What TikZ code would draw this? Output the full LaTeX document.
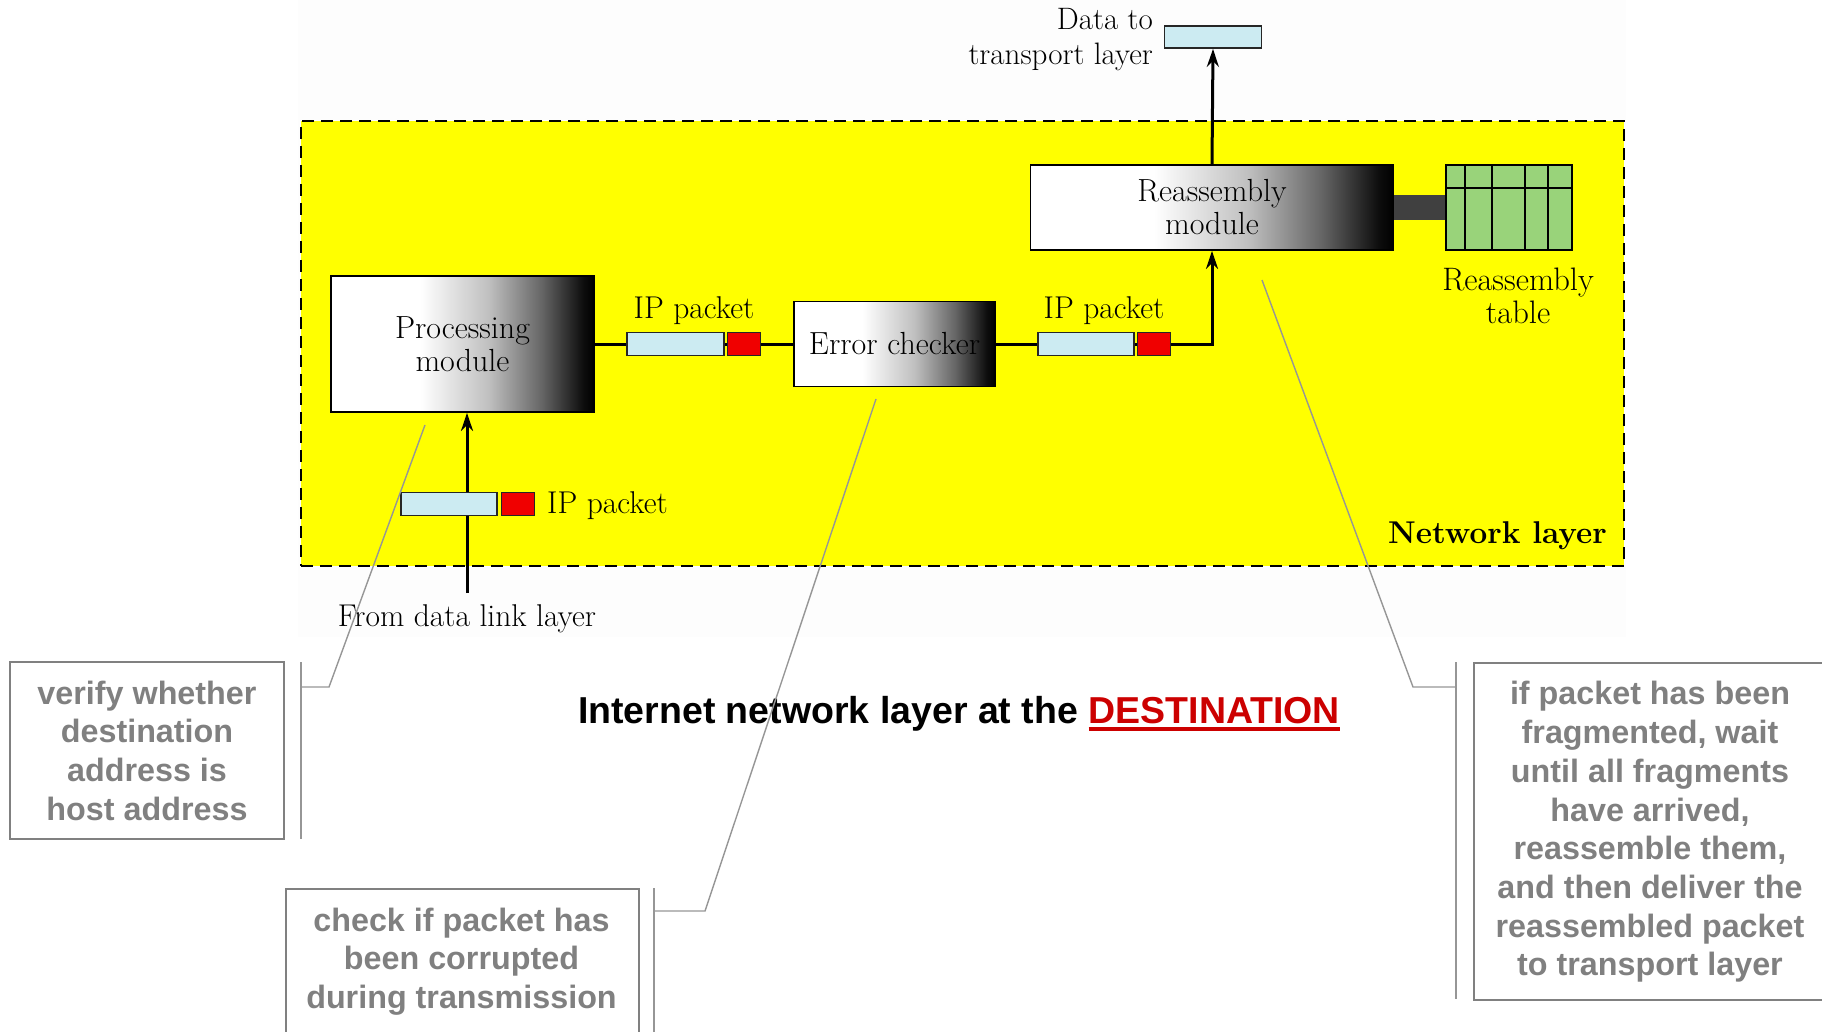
\documentclass[tikz,border=0pt]{standalone}
\usepackage{fontspec}
\newfontfamily\arialfont{Liberation Sans}
\usetikzlibrary{arrows.meta}
\definecolor{pktblue}{RGB}{204,235,242}
\definecolor{pktred}{RGB}{240,0,0}
\definecolor{tblgreen}{RGB}{153,211,122}
\definecolor{netyellow}{RGB}{255,255,0}
\definecolor{faintbg}{RGB}{253,253,253}
\definecolor{callgray}{RGB}{128,128,128}
\definecolor{linegray}{RGB}{150,150,150}
\definecolor{destred}{RGB}{204,0,0}
\definecolor{barcol}{RGB}{64,64,64}
\pgfdeclarehorizontalshading{modshade}{100bp}{color(0bp)=(white); color(25bp)=(white); color(42bp)=(white); color(55bp)=(black!25); color(65bp)=(black!60); color(73bp)=(black!95); color(75bp)=(black); color(100bp)=(black)}
\tikzset{
  module/.style={draw=black, line width=1.8pt, shading=modshade, inner sep=0pt, align=center, font=\fontsize{32}{33}\selectfont},
  pblue/.style={draw=black!85, line width=1.5pt, fill=pktblue, inner sep=0pt, minimum height=23pt},
  pred/.style={draw=black!85, line width=1.5pt, fill=pktred, inner sep=0pt, minimum height=23pt, minimum width=33pt},
  lbl/.style={inner sep=0pt, align=center, font=\fontsize{31.5}{33}\selectfont},
  conn/.style={line width=3pt, draw=black},
  arr/.style={conn, -{Stealth[length=18pt,width=12pt]}},
  callbox/.style={draw=callgray, line width=1.5pt, inner sep=0pt, align=center, text=callgray, font=\arialfont\bfseries\fontsize{32.3}{38.7}\selectfont},
  callline/.style={draw=linegray, line width=1.4pt},
  bracket/.style={draw=linegray, line width=2pt}
}
\begin{document}
\begin{tikzpicture}[x=1pt,y=-1pt]
\useasboundingbox (0,0) rectangle (1822,1032);
\fill[faintbg] (298,0) rectangle (1626,637);
% network layer region
\node[draw=black, line width=2.2pt, dash pattern=on 12pt off 7pt, fill=netyellow, minimum width=1323pt, minimum height=445pt, inner sep=0pt] (net) at (962.5,343.5) {};
\node[lbl, anchor=east, font=\bfseries\fontsize{31.5}{34}\selectfont] (netlbl) at (1607,536) {Network layer};
% modules
\node[module, minimum width=263pt, minimum height=136pt] (proc) at (462.5,344) {Processing\\module};
\node[module, minimum width=201pt, minimum height=85pt] (err) at (894.5,344) {Error checker};
\node[module, minimum width=363pt, minimum height=85pt] (reas) at (1212,207.5) {Reassembly\\module};
\node[draw=black, line width=1.8pt, fill=tblgreen, minimum width=126pt, minimum height=85pt, inner sep=0pt] (tbl) at (1509,207.5) {};
\foreach \xx in {1465,1492,1525,1548} \draw[line width=1.8pt] (\xx,165) -- (\xx,250);
\draw[line width=1.8pt] (tbl.west |- 0,188) -- (tbl.east |- 0,188);
\draw[barcol, line width=25pt] (reas.east) -- (tbl.west);
\node[lbl, font=\fontsize{32.5}{33}\selectfont] (tbllbl) at (1518,296) {Reassembly\\table};
% data to transport layer
\node[draw=black!85, line width=1.8pt, fill=pktblue, minimum width=97pt, minimum height=22pt, inner sep=0pt] (data) at (1213,37) {};
\node[lbl, anchor=east, align=right, font=\fontsize{31}{35}\selectfont] (datalbl) at (1153,40) {Data to\\transport layer};
% connectors
\coordinate (dl) at (467,593);
\draw[arr] (dl) -- (dl |- proc.south);
\draw[conn] (proc.east) -- (err.west);
\draw[arr] (err.east) -| (reas.south);
\draw[arr] (reas.north) -- (data.south);
% packets
\node[pblue, minimum width=97pt] (p1b) at (675.5,344) {};
\node[pred] (p1r) at (744,344) {};
\node[lbl] (p1l) at (694,311) {IP packet};
\node[pblue, minimum width=96pt] (p2b) at (1086,344) {};
\node[pred] (p2r) at (1154,344) {};
\node[lbl] (p2l) at (1104,311) {IP packet};
\node[pblue, minimum width=96pt] (p3b) at (449,504) {};
\node[pred] (p3r) at (518,504) {};
\node[lbl, anchor=west] (p3l) at (547,506) {IP packet};
\node[lbl] (dllbl) at (467,619) {From data link layer};
% title
\node[inner sep=0pt, font=\arialfont\bfseries\fontsize{37.5}{40}\selectfont] (title) at (959,714) {Internet network layer at the {\color{destred}\setbox0\hbox{DESTINATION}\rlap{\raisebox{-7pt}{\rule{\wd0}{3.5pt}}}\box0}};
% callouts
\node[callbox, minimum width=274pt, minimum height=177pt] (c1) at (147,750.5) {verify whether\\destination\\address is\\host address};
\coordinate (c1a) at (301,662); \coordinate (c1b) at (301,839);
\coordinate (c1k) at (329,687); \coordinate (c1t) at (425,425);
\draw[bracket] (c1a) -- (c1b);
\draw[callline] (c1a |- c1k) -- (c1k) -- (c1t);
\node[callbox, minimum width=353pt, minimum height=160pt, anchor=north west] (c2) at (285,888) {};
\node[callbox, draw=none] (c2t) at (461.5,961.5) {check if packet has\\been corrupted\\during transmission};
\coordinate (c2a) at (654,888); \coordinate (c2b) at (654,1032);
\coordinate (c2k) at (705,911); \coordinate (c2t2) at (876,399);
\draw[bracket] (c2a) -- (c2b);
\draw[callline] (c2a |- c2k) -- (c2k) -- (c2t2);
\node[callbox, minimum width=370pt, minimum height=337pt, anchor=north west] (c3) at (1473,662) {};
\node[callbox, draw=none] (c3t) at (1650,832) {if packet has been\\fragmented, wait\\until all fragments\\have arrived,\\reassemble them,\\and then deliver the\\reassembled packet\\to transport layer};
\coordinate (c3a) at (1456,662); \coordinate (c3b) at (1456,999);
\coordinate (c3k) at (1413,687); \coordinate (c3t2) at (1262,280);
\draw[bracket] (c3a) -- (c3b);
\draw[callline] (c3a |- c3k) -- (c3k) -- (c3t2);
\end{tikzpicture}
\end{document}
